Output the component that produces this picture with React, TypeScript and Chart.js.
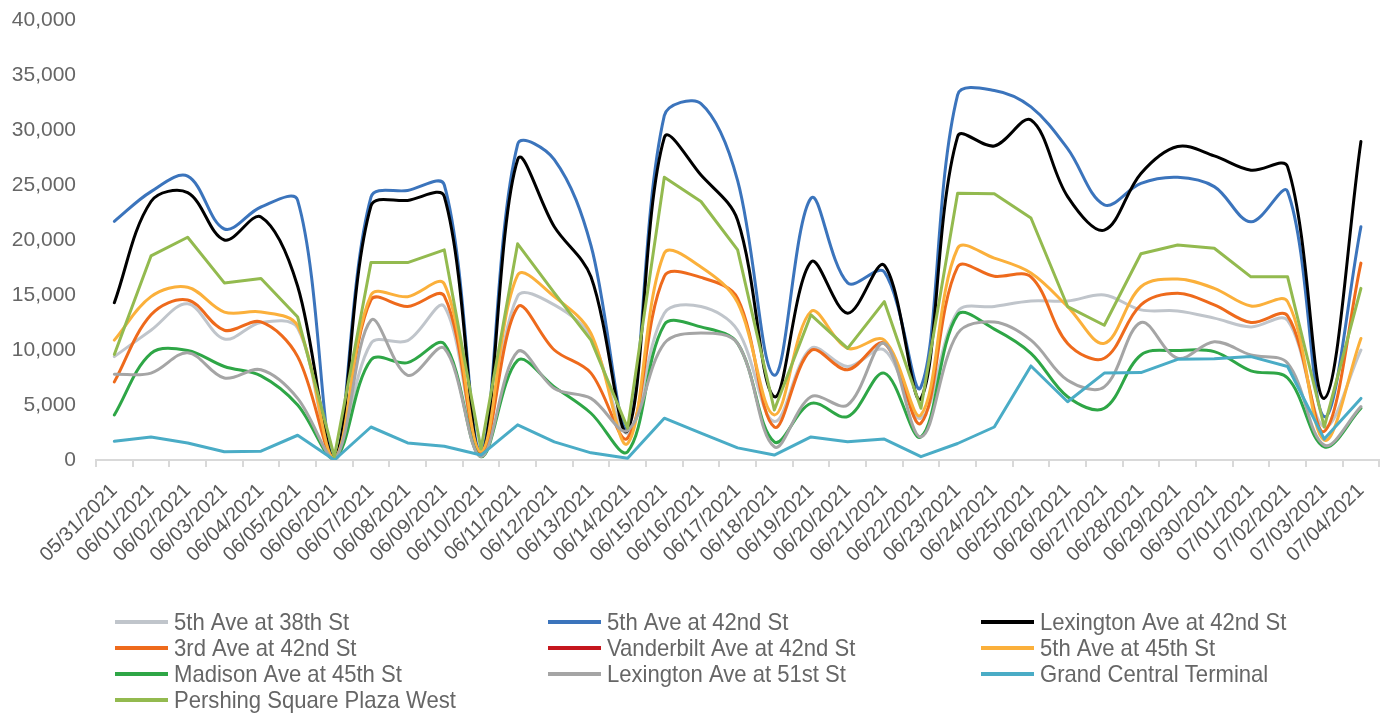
import React, { useEffect, useRef } from 'react';
import { Chart, registerables } from 'chart.js';

Chart.register(...registerables);

const dates = [
  '05/31/2021', '06/01/2021', '06/02/2021', '06/03/2021', '06/04/2021', '06/05/2021', '06/06/2021',
  '06/07/2021', '06/08/2021', '06/09/2021', '06/10/2021', '06/11/2021', '06/12/2021', '06/13/2021',
  '06/14/2021', '06/15/2021', '06/16/2021', '06/17/2021', '06/18/2021', '06/19/2021', '06/20/2021',
  '06/21/2021', '06/22/2021', '06/23/2021', '06/24/2021', '06/25/2021', '06/26/2021', '06/27/2021',
  '06/28/2021', '06/29/2021', '06/30/2021', '07/01/2021', '07/02/2021', '07/03/2021', '07/04/2021',
];

const fifthAve38 = [9400, 11800, 14200, 11000, 12500, 12000, 0, 10600, 10850, 13950, 500, 14900, 14100, 11200, 2450, 13350, 13950, 11800, 3500, 10150, 8500, 10000, 3800, 13500, 13950, 14450, 14450, 15000, 13650, 13550, 12900, 12100, 12700, 3000, 10000];
const fifthAve42 = [21700, 24400, 25800, 21000, 23000, 23600, 200, 23900, 24500, 25000, 800, 28700, 27300, 19500, 3000, 31300, 32400, 25400, 7700, 23800, 16100, 17100, 6650, 33200, 33600, 32100, 28300, 23200, 25150, 25700, 24850, 21650, 24400, 3950, 21200];
const lexington42 = [14300, 23500, 24300, 20000, 22100, 15800, 100, 23100, 23600, 23950, 400, 27300, 21200, 16650, 2700, 29300, 25900, 21800, 5750, 18000, 13350, 17700, 5600, 29400, 28550, 30900, 23950, 20900, 26050, 28500, 27650, 26350, 26650, 5600, 28950];
const thirdAve42 = [7100, 13200, 14550, 11800, 12550, 9400, 100, 14550, 13950, 14900, 600, 13900, 10000, 7900, 2000, 16700, 16600, 14700, 3000, 9950, 8200, 10600, 3350, 17550, 16700, 16650, 10600, 9250, 14100, 15150, 14100, 12500, 13100, 2600, 17900];
const vanderbilt42 = [null, null, null, null, null, null, null, null, null, null, null, null, null, null, null, null, null, null, null, null, null, null, null, null, null, null, null, null, null, null, null, null, null, null, null];
const fifthAve45 = [10900, 14850, 15700, 13450, 13450, 12200, 200, 15000, 14850, 16000, 800, 16800, 14850, 11500, 1500, 18800, 17550, 14300, 4100, 13500, 10150, 10900, 4100, 19250, 18350, 17000, 13950, 10600, 15750, 16450, 15600, 14000, 14400, 1800, 11050];
const madison45 = [4100, 9700, 9950, 8500, 7650, 5000, 100, 9100, 8850, 10550, 300, 9050, 6650, 4250, 750, 12300, 12100, 10600, 1650, 5150, 3950, 7900, 2100, 13200, 11900, 9700, 5750, 4700, 9550, 9950, 9850, 8100, 7450, 1200, 4700];
const lexington51 = [7800, 7900, 9750, 7450, 8200, 5600, 0, 12700, 7700, 10150, 300, 9850, 6500, 5600, 2700, 10600, 11550, 10600, 1200, 5750, 5000, 10600, 2100, 11500, 12550, 10900, 7250, 6650, 12500, 9250, 10750, 9550, 8800, 1350, 4850];
const grandCentral = [1700, 2100, 1550, 750, 800, 2250, 0, 3000, 1550, 1250, 450, 3200, 1650, 650, 150, 3800, 2450, 1100, 450, 2100, 1650, 1900, 300, 1500, 3000, 8550, 5300, 7900, 7950, 9150, 9200, 9400, 8500, 1900, 5600];
const pershing = [9600, 18550, 20250, 16100, 16500, 13000, 300, 17950, 17950, 19100, 1000, 19650, 15200, 10900, 2900, 25700, 23500, 19100, 4550, 13200, 10150, 14400, 4700, 24250, 24200, 22000, 13950, 12250, 18750, 19550, 19250, 16650, 16650, 3000, 15600];

const seriesNames = [
  '5th Ave at 38th St', '5th Ave at 42nd St', 'Lexington Ave at 42nd St',
  '3rd Ave at 42nd St', 'Vanderbilt Ave at 42nd St', '5th Ave at 45th St',
  'Madison Ave at 45th St', 'Lexington Ave at 51st St', 'Grand Central Terminal',
  'Pershing Square Plaza West',
];
const seriesColors = [
  '#C0C5CB', '#3B74BC', '#000000',
  '#EE6A1C', '#C5161D', '#FBB03B',
  '#2EA646', '#A5A5A5', '#4AACC6',
  '#93BA4F',
];
const straightSeries = [false, false, false, false, false, false, false, false, true, true];

const yTicksMax = 40000;
const yTickStep = 5000;

export default function App() {
  const ref = useRef<HTMLCanvasElement>(null);

  useEffect(() => {
    if (!ref.current) return;
    const seriesData = [fifthAve38, fifthAve42, lexington42, thirdAve42, vanderbilt42, fifthAve45, madison45, lexington51, grandCentral, pershing];

    const legendPlugin = {
      id: 'gridLegend',
      afterDraw(chart: any) {
        const ctx = chart.ctx as CanvasRenderingContext2D;
        const rows = [622, 648, 674, 700];
        const cols = [115, 548, 981];
        ctx.save();
        seriesNames.forEach((name, i) => {
          const r = Math.floor(i / 3);
          const c = i % 3;
          const x = cols[c];
          const y = rows[r];
          ctx.strokeStyle = seriesColors[i];
          ctx.lineWidth = 4;
          ctx.lineCap = 'butt';
          ctx.beginPath();
          ctx.moveTo(x, y);
          ctx.lineTo(x + 53, y);
          ctx.stroke();
          ctx.save();
          ctx.translate(x + 59, y + 1);
          ctx.scale(0.92, 1);
          ctx.fillStyle = '#666666';
          ctx.font = '24px "Liberation Sans", Arial, sans-serif';
          ctx.textBaseline = 'middle';
          ctx.textAlign = 'left';
          ctx.fillText(name, 0, 0);
          ctx.restore();
        });
        ctx.restore();
      },
    };

    const chart = new Chart(ref.current, {
      type: 'line',
      data: {
        labels: dates,
        datasets: seriesNames.map((name, i) => ({
          label: name,
          data: seriesData[i],
          borderColor: seriesColors[i],
          backgroundColor: seriesColors[i],
          borderWidth: 3,
          pointRadius: 0,
          pointHoverRadius: 0,
          tension: straightSeries[i] ? 0 : 0.35,
          borderJoinStyle: 'round' as const,
          borderCapStyle: 'round' as const,
          fill: false,
          order: seriesNames.length - 1 - i,
        })),
      },
      options: {
        animation: false,
        responsive: true,
        maintainAspectRatio: false,
        layout: { padding: { left: 0, right: 7, top: 20, bottom: 130 } },
        plugins: {
          legend: { display: false },
          tooltip: { enabled: false },
          title: { display: false },
        },
        scales: {
          x: {
            offset: true,
            grid: {
              display: true,
              offset: true,
              drawOnChartArea: false,
              drawTicks: true,
              tickLength: 7,
              color: '#D9D9D9',
              lineWidth: 2,
            },
            border: { display: true, color: '#D9D9D9', width: 2 },
            ticks: {
              autoSkip: false,
              maxRotation: 45,
              minRotation: 45,
              padding: 12,
              color: '#595959',
              font: { family: '"Liberation Sans", Arial, sans-serif', size: 20 },
            },
            afterFit: (scale: any) => { scale.height = 125; },
          },
          y: {
            min: 0,
            max: yTicksMax,
            grid: { display: false, drawTicks: true, tickLength: 20 },
            border: { display: false },
            ticks: {
              stepSize: yTickStep,
              padding: 0,
              color: '#666666',
              font: { family: '"Liberation Sans", Arial, sans-serif', size: 21 },
            },
            afterFit: (scale: any) => { scale.width = 96; },
          },
        },
      },
      plugins: [legendPlugin],
    });
    return () => chart.destroy();
  }, []);

  return (
    <div style={{ position: 'fixed', left: 0, top: 0, width: 1390, height: 715, background: '#fff' }}>
      <canvas ref={ref} />
    </div>
  );
}
